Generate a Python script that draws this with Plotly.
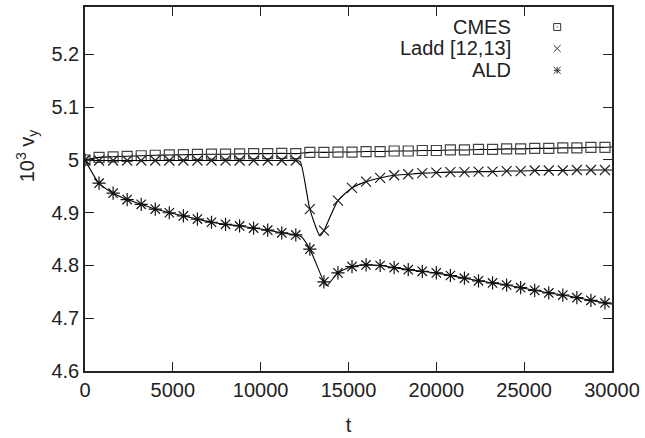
import plotly.graph_objects as go

# ---- data ----
t_marks = [i * 800 for i in range(38)]  # 0 .. 29600

cmes = [5.000, 5.005, 5.006, 5.007, 5.008, 5.009, 5.0095, 5.010, 5.0105, 5.011,
        5.011, 5.0115, 5.012, 5.012, 5.0125, 5.012, 5.0145, 5.0145, 5.015, 5.015,
        5.016, 5.016, 5.017, 5.017, 5.018, 5.018, 5.019, 5.019, 5.020, 5.020,
        5.021, 5.021, 5.022, 5.022, 5.023, 5.023, 5.024, 5.024]

ladd = [5.000, 4.999, 4.999, 4.999, 4.999, 4.999, 4.999, 4.999, 4.999, 4.999,
        4.999, 4.999, 4.999, 4.999, 4.999, 4.999, 4.907, 4.866, 4.923, 4.947,
        4.959, 4.966, 4.971, 4.973, 4.975, 4.976, 4.977, 4.977, 4.978, 4.978,
        4.979, 4.979, 4.980, 4.980, 4.980, 4.981, 4.981, 4.981]

ald = [5.000, 4.956, 4.937, 4.925, 4.916, 4.907, 4.900, 4.894, 4.888, 4.882,
       4.878, 4.875, 4.871, 4.867, 4.862, 4.858, 4.831, 4.769, 4.786, 4.798,
       4.801, 4.800, 4.796, 4.792, 4.789, 4.786, 4.781, 4.776, 4.771, 4.767,
       4.763, 4.758, 4.753, 4.748, 4.744, 4.739, 4.734, 4.729]

# extra points of the continuous curves
cmes_line_extra_t = [30000]
cmes_line_extra_v = [5.0245]
ladd_line_extra_t = [12250, 13380, 30000]
ladd_line_extra_v = [4.997, 4.856, 4.981]
ald_line_extra_t = [12300, 13760, 30000]
ald_line_extra_v = [4.855, 4.762, 4.727]

series_names = ["CMES", "Ladd [12,13]", "ALD"]

x_ticks = [0, 5000, 10000, 15000, 20000, 25000, 30000]
x_ticktext = ["0", "5000", "10000", "15000", "20000", "25000", "30000"]
y_ticks = [4.6, 4.7, 4.8, 4.9, 5.0, 5.1, 5.2]
y_ticktext = ["4.6", "4.7", "4.8", "4.9", "5", "5.1", "5.2"]


def merged(t, v, et, ev):
    pts = sorted(list(zip(t, v)) + list(zip(et, ev)))
    return [p[0] for p in pts], [p[1] for p in pts]


FONT = "Liberation Sans, Arial, sans-serif"
W, H = 645, 438
ML, MR, MT, MB = 85, 33, 5, 66
PW, PH = W - ML - MR, H - MT - MB

fig = go.Figure()

styles = [
    (cmes, cmes_line_extra_t, cmes_line_extra_v, "square-open", 10, "#444444"),
    (ladd, ladd_line_extra_t, ladd_line_extra_v, "x-thin-open", 10, "#222222"),
    (ald, ald_line_extra_t, ald_line_extra_v, "asterisk-open", 11, "#111111"),
]

for (vals, et, ev, sym, size, col), name in zip(styles, series_names):
    lt, lv = merged(t_marks, vals, et, ev)
    fig.add_trace(go.Scatter(x=lt, y=lv, mode="lines",
                             line=dict(color="black", width=1.1, shape="spline", smoothing=0.6),
                             showlegend=False, hoverinfo="skip"))
    fig.add_trace(go.Scatter(x=t_marks, y=vals, mode="markers", name=name,
                             marker=dict(symbol=sym, size=size, color=col,
                                         line=dict(color=col, width=1.2)),
                             showlegend=False))

# legend: right-aligned text with symbol drawn on its right (paper coordinates)
leg_x_sym = 0.896
leg_x_text = 0.812
leg_y = [0.945, 0.886, 0.826]
half = 3.5
dx, dy = half / PW, half / PH
leg_col = "#333333"
lw = dict(color=leg_col, width=1)

for name, yy in zip(series_names, leg_y):
    fig.add_annotation(x=leg_x_text, y=yy, xref="paper", yref="paper", text=name,
                       showarrow=False, xanchor="right", yanchor="middle",
                       font=dict(family=FONT, size=20, color="#222222"))

# CMES: square with centre dot
y0 = leg_y[0]
fig.add_shape(type="rect", xref="paper", yref="paper",
              x0=leg_x_sym - dx, x1=leg_x_sym + dx, y0=y0 - dy, y1=y0 + dy, line=lw)
fig.add_shape(type="rect", xref="paper", yref="paper",
              x0=leg_x_sym - 0.6 / PW, x1=leg_x_sym + 0.6 / PW,
              y0=y0 - 0.6 / PH, y1=y0 + 0.6 / PH, line=dict(width=0), fillcolor=leg_col)
# Ladd: cross
y1 = leg_y[1]
for sx in (1, -1):
    fig.add_shape(type="line", xref="paper", yref="paper",
                  x0=leg_x_sym - dx, x1=leg_x_sym + dx,
                  y0=y1 - sx * dy, y1=y1 + sx * dy, line=lw)
# ALD: star (plus + cross)
y2 = leg_y[2]
for (ax, ay) in [(1, 1), (1, -1), (1, 0), (0, 1)]:
    fig.add_shape(type="line", xref="paper", yref="paper",
                  x0=leg_x_sym - ax * dx, x1=leg_x_sym + ax * dx,
                  y0=y2 - ay * dy, y1=y2 + ay * dy, line=lw)

axis_common = dict(showline=True, linecolor="#222222", linewidth=1.6, mirror="ticks",
                   ticks="inside", ticklen=9, tickwidth=1.2, tickcolor="#222222",
                   showgrid=False, zeroline=False,
                   tickfont=dict(family=FONT, size=20, color="#222222"))

fig.update_layout(
    width=W, height=H,
    margin=dict(l=ML, r=MR, t=MT, b=MB),
    paper_bgcolor="white", plot_bgcolor="white",
    xaxis=dict(range=[0, 30000], tickvals=x_ticks, ticktext=x_ticktext,
               title=dict(text="t", font=dict(family=FONT, size=20, color="#222222"), standoff=18),
               **axis_common),
    yaxis=dict(range=[4.6, 5.29], tickvals=y_ticks, ticktext=y_ticktext, **axis_common),
    showlegend=False,
)

fig.add_annotation(x=-0.11, y=0.59, xref="paper", yref="paper",
                   text="10<sup>3</sup> v<sub>y</sub>", textangle=-90, showarrow=False,
                   xanchor="center", yanchor="middle",
                   font=dict(family=FONT, size=20, color="#222222"))

fig.write_html("out.html", config={"displayModeBar": False},
               post_script="document.body.style.margin='0px';")
